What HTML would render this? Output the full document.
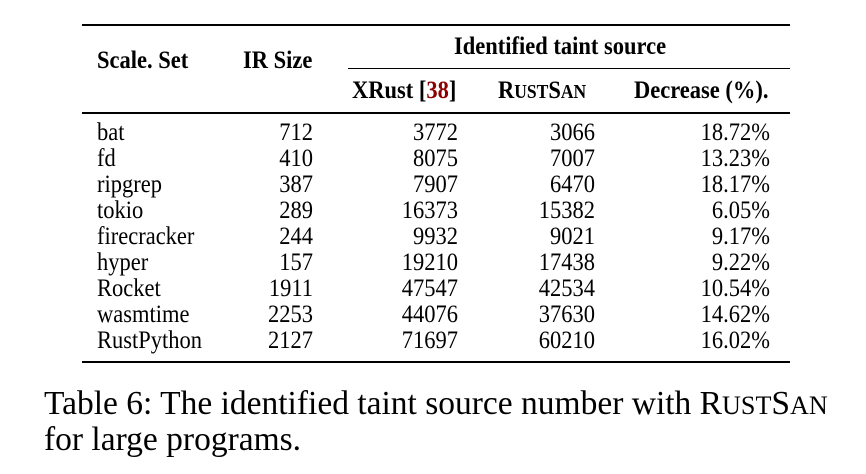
<!DOCTYPE html>
<html><head><style>
body{margin:0;width:866px;height:474px;background:#fff;font-family:"Liberation Serif",serif;color:#000;position:relative;overflow:hidden}
.a{position:absolute;white-space:nowrap;font-size:22.5px;line-height:24px;height:24px;transform:scaleY(1.12)}
.r{text-align:right}
.b{font-weight:bold}
.rule{position:absolute;background:#000}
.sc{font-size:0.78em}
.cap{position:absolute;left:44px;font-size:33.5px;line-height:34px;white-space:nowrap}
</style></head><body>
<div class="rule" style="left:82px;top:24px;width:708px;height:2px"></div>
<div class="rule" style="left:348px;top:68px;width:442px;height:1px"></div>
<div class="rule" style="left:82px;top:112px;width:708px;height:1.5px"></div>
<div class="rule" style="left:82px;top:361px;width:708px;height:2px"></div>

<div class="a b" style="left:97px;top:48px">Scale. Set</div>
<div class="a b" style="left:243px;top:48px">IR Size</div>
<div class="a b" style="left:454px;top:34px">Identified taint source</div>
<div class="a b" style="left:352px;top:78px">XRust [<span style="color:#8b0000">38</span>]</div>
<div class="a b" style="left:498px;top:78px">R<span class="sc">UST</span>S<span class="sc">AN</span></div>
<div class="a b" style="left:634px;top:78px">Decrease (%).</div>

<div id="rows"></div>
<script>
var d=[["bat",712,3772,3066,"18.72%"],["fd",410,8075,7007,"13.23%"],["ripgrep",387,7907,6470,"18.17%"],["tokio",289,16373,15382,"6.05%"],["firecracker",244,9932,9021,"9.17%"],["hyper",157,19210,17438,"9.22%"],["Rocket",1911,47547,42534,"10.54%"],["wasmtime",2253,44076,37630,"14.62%"],["RustPython",2127,71697,60210,"16.02%"]];
var h="",rs=[313,458,595,770];
d.forEach(function(r,i){var t=120+i*26;
h+='<div class="a" style="left:97px;top:'+t+'px">'+r[0]+'</div>';
for(var j=1;j<5;j++)h+='<div class="a r" style="right:'+(866-rs[j-1])+'px;top:'+t+'px">'+r[j]+'</div>';});
document.getElementById("rows").innerHTML=h;
</script>

<div class="cap" style="top:387px">Table 6: The identified taint source number with R<span class="sc">UST</span>S<span class="sc">AN</span></div>
<div class="cap" style="top:423px">for large programs.</div>
</body></html>
